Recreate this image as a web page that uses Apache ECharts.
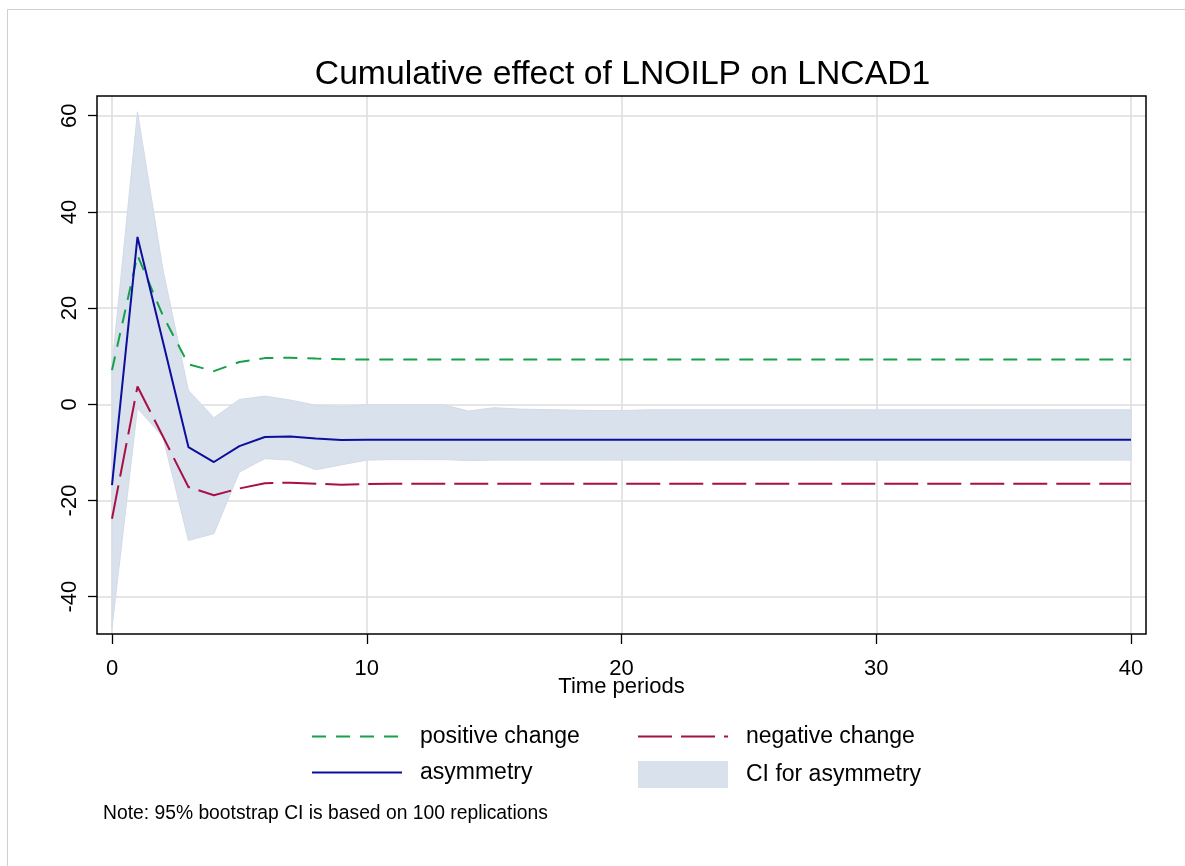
<!DOCTYPE html>
<html>
<head>
<meta charset="utf-8">
<script src="https://cdn.jsdelivr.net/npm/echarts@6/dist/echarts.min.js"></script>
<style>
html,body{margin:0;padding:0;background:#fff;}
#chart{width:1185px;height:866px;}
</style>
</head>
<body>
<div id="chart"></div>
<script>
// ---- data ----
const periods = [0,1,2,3,4,5,6,7,8,9,10,11,12,13,14,15,16,17,18,19,20,21,22,23,24,25,26,27,28,29,30,31,32,33,34,35,36,37,38,39,40];
const positiveChange = [7.1,31.0,18.4,8.3,6.9,8.8,9.6,9.7,9.5,9.35,9.3,9.3,9.3,9.3,9.3,9.3,9.3,9.3,9.3,9.3,9.3,9.3,9.3,9.3,9.3,9.3,9.3,9.3,9.3,9.3,9.3,9.3,9.3,9.3,9.3,9.3,9.3,9.3,9.3,9.3,9.3];
const negativeChange = [-23.8,3.7,-6.7,-17.2,-18.9,-17.5,-16.4,-16.3,-16.5,-16.7,-16.6,-16.5,-16.5,-16.5,-16.5,-16.5,-16.5,-16.5,-16.5,-16.5,-16.5,-16.5,-16.5,-16.5,-16.5,-16.5,-16.5,-16.5,-16.5,-16.5,-16.5,-16.5,-16.5,-16.5,-16.5,-16.5,-16.5,-16.5,-16.5,-16.5,-16.5];
const asymmetry = [-16.8,34.8,13.0,-8.9,-12.0,-8.7,-6.8,-6.7,-7.1,-7.4,-7.35,-7.35,-7.35,-7.35,-7.35,-7.35,-7.35,-7.35,-7.35,-7.35,-7.35,-7.35,-7.35,-7.35,-7.35,-7.35,-7.35,-7.35,-7.35,-7.35,-7.35,-7.35,-7.35,-7.35,-7.35,-7.35,-7.35,-7.35,-7.35,-7.35,-7.35];
const ciUpper = [8.0,60.8,28.0,2.9,-2.8,1.0,1.7,0.9,-0.2,-0.5,-0.1,-0.1,-0.1,-0.1,-1.4,-0.7,-1.0,-1.1,-1.2,-1.3,-1.3,-1.15,-1.15,-1.15,-1.15,-1.15,-1.15,-1.15,-1.15,-1.15,-1.15,-1.15,-1.15,-1.15,-1.15,-1.15,-1.15,-1.15,-1.15,-1.15,-1.15];
const ciLower = [-46.5,-0.8,-6.8,-28.3,-26.9,-14.1,-11.3,-11.6,-13.6,-12.6,-11.6,-11.5,-11.5,-11.5,-11.7,-11.6,-11.6,-11.6,-11.6,-11.6,-11.6,-11.6,-11.6,-11.6,-11.6,-11.6,-11.6,-11.6,-11.6,-11.6,-11.6,-11.6,-11.6,-11.6,-11.6,-11.6,-11.6,-11.6,-11.6,-11.6,-11.6];
const xTicks = [0, 40, 10];     // min, max, interval
const yTicks = [-40, 60, 20];   // min, max, interval

// ---- styling ----
const FONT = "'Liberation Sans', Arial, sans-serif";
const GREEN = '#16a04a', RED = '#a80f47', BLUE = '#0e0e9c', CI = '#d9e1ed', GRID = '#dcdcdc';

const pair = (ys) => periods.map((x, i) => [x, ys[i]]);

// plot frame geometry (px)
const L = 97, T = 96, W = 1049, H = 538;
const x0px = 112, x40px = 1131, y60px = 115.7, yM40px = 596.7;
const pxPerX = (x40px - x0px) / (xTicks[1] - xTicks[0]);
const pxPerY = (yM40px - y60px) / (yTicks[1] - yTicks[0]);
const fxMin = xTicks[0] - (x0px - L) / pxPerX, fxMax = xTicks[1] + (L + W - x40px) / pxPerX;
const fyMax = yTicks[1] + (y60px - T) / pxPerY, fyMin = yTicks[0] - (T + H - yM40px) / pxPerY;

const hideSym = {opacity: 0};

const chart = echarts.init(document.getElementById('chart'), null, {renderer: 'canvas'});
chart.setOption({
  animation: false,
  backgroundColor: '#fff',
  textStyle: {fontFamily: FONT},
  title: [
    {text: 'Cumulative effect of LNOILP on LNCAD1', left: 622.5, top: 58, textAlign: 'center', padding: 0,
     textStyle: {fontFamily: FONT, fontSize: 33.7, fontWeight: 'normal', color: '#000'}},
    {text: 'Note: 95% bootstrap CI is based on 100 replications', left: 103, top: 804, padding: 0,
     textStyle: {fontFamily: FONT, fontSize: 19.3, fontWeight: 'normal', color: '#000'}}
  ],
  graphic: [{type: 'rect', silent: true, z: -10,
    shape: {x: 7.5, y: 9.5, width: 1250, height: 950},
    style: {fill: null, stroke: '#cfcfcf', lineWidth: 1}}],
  grid: [
    // 0: frame + data
    {left: L, top: T, width: W, height: H, show: true, borderColor: '#000', borderWidth: 1.5, backgroundColor: 'transparent', z: 3},
    // 1: horizontal grid lines + y ticks
    {left: L, top: y60px, width: W, height: yM40px - y60px},
    // 2: vertical grid lines + x ticks
    {left: x0px, top: T, width: x40px - x0px, height: H}
  ],
  xAxis: [
    {gridIndex: 0, type: 'value', min: fxMin, max: fxMax, show: false},
    {gridIndex: 1, type: 'value', min: fxMin, max: fxMax, show: false},
    {gridIndex: 2, type: 'value', min: xTicks[0], max: xTicks[1], interval: xTicks[2], position: 'bottom',
     axisLine: {show: false, onZero: false},
     axisTick: {show: true, length: 10, lineStyle: {color: '#000', width: 1.3}},
     axisLabel: {fontFamily: FONT, fontSize: 22, color: '#000', margin: 24},
     splitLine: {show: true, lineStyle: {color: GRID, width: 1.5}},
     name: 'Time periods', nameLocation: 'middle', nameGap: 42, nameMoveOverlap: false,
     nameTextStyle: {fontFamily: FONT, fontSize: 22, color: '#000'}}
  ],
  yAxis: [
    {gridIndex: 0, type: 'value', min: fyMin, max: fyMax, show: false},
    {gridIndex: 1, type: 'value', min: yTicks[0], max: yTicks[1], interval: yTicks[2], position: 'left',
     axisLine: {show: false, onZero: false},
     axisTick: {show: true, length: 9, lineStyle: {color: '#000', width: 1.3}},
     axisLabel: {fontFamily: FONT, fontSize: 22, color: '#000', rotate: 90, margin: 16},
     splitLine: {show: true, lineStyle: {color: GRID, width: 1.5}}},
    {gridIndex: 2, type: 'value', min: fyMin, max: fyMax, show: false}
  ],
  legend: [
    {orient: 'vertical', left: 311, top: 725, padding: 0, itemWidth: 90, itemHeight: 27, itemGap: 13,
     selectedMode: false,
     textStyle: {fontFamily: FONT, fontSize: 23, color: '#000', padding: [0, 0, 0, 13]},
     data: [{name: 'positive change', itemStyle: hideSym}, {name: 'asymmetry', itemStyle: hideSym}]},
    {orient: 'vertical', left: 637, top: 725, padding: 0, itemWidth: 90, itemHeight: 27, itemGap: 13,
     selectedMode: false,
     textStyle: {fontFamily: FONT, fontSize: 23, color: '#000', padding: [0, 0, 0, 13]},
     data: [{name: 'negative change', itemStyle: hideSym}, {name: 'CI for asymmetry', icon: 'rect', itemStyle: {color: CI}}]}
  ],
  series: [
    {name: 'CI for asymmetry', type: 'custom', xAxisIndex: 0, yAxisIndex: 0,
     data: periods.map((x, i) => [x, ciLower[i], ciUpper[i]]),
     encode: {x: 0, y: [1, 2]}, silent: true, z: 1, itemStyle: {color: CI},
     renderItem: function (params, api) {
       if (params.dataIndex !== 0) return null;
       const up = periods.map((x, i) => api.coord([x, ciUpper[i]]));
       const lo = periods.map((x, i) => api.coord([x, ciLower[i]])).reverse();
       return {type: 'polygon', shape: {points: up.concat(lo)},
               style: {fill: CI, stroke: '#d3dbe8', lineWidth: 1}};
     }},
    {name: 'positive change', type: 'line', xAxisIndex: 0, yAxisIndex: 0, data: pair(positiveChange),
     symbol: 'none', z: 4, itemStyle: {color: GREEN},
     lineStyle: {color: GREEN, width: 2, type: [14, 10]}},
    {name: 'negative change', type: 'line', xAxisIndex: 0, yAxisIndex: 0, data: pair(negativeChange),
     symbol: 'none', z: 4, itemStyle: {color: RED},
     lineStyle: {color: RED, width: 2, type: [34, 9]}},
    {name: 'asymmetry', type: 'line', xAxisIndex: 0, yAxisIndex: 0, data: pair(asymmetry),
     symbol: 'none', z: 5, itemStyle: {color: BLUE},
     lineStyle: {color: BLUE, width: 2}}
  ]
});
</script>
</body>
</html>
